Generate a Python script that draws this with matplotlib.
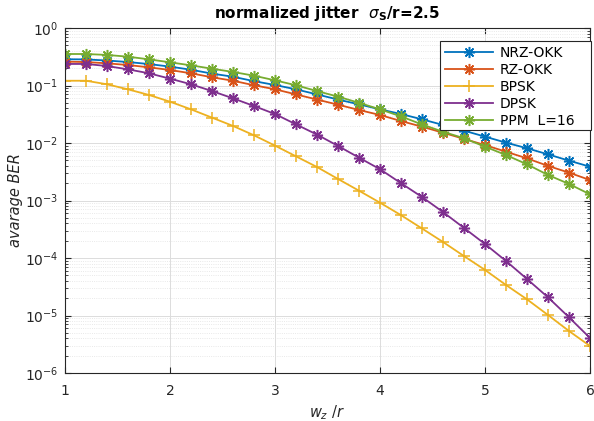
import matplotlib
matplotlib.use("Agg")
import matplotlib.pyplot as plt
from matplotlib.patches import Rectangle
from matplotlib.ticker import LogLocator, FixedLocator, NullFormatter

plt.rcParams['font.family'] = ['DejaVu Sans']
plt.rcParams['mathtext.fontset'] = 'dejavusans'

wz = [1.0, 1.2, 1.4, 1.6, 1.8, 2.0, 2.2, 2.4, 2.6, 2.8, 3.0, 3.2, 3.4, 3.6, 3.8,
      4.0, 4.2, 4.4, 4.6, 4.8, 5.0, 5.2, 5.4, 5.6, 5.8, 6.0]

nrz_okk = [0.286, 0.284, 0.272, 0.256, 0.236, 0.213, 0.188, 0.161, 0.142, 0.119,
           0.102, 0.0858, 0.070, 0.057, 0.047, 0.0385, 0.0319, 0.0258, 0.0206,
           0.0164, 0.0129, 0.01014, 0.0081, 0.00635, 0.00493, 0.00387]
rz_okk = [0.260, 0.256, 0.243, 0.227, 0.207, 0.186, 0.163, 0.139, 0.121, 0.101,
          0.086, 0.070, 0.057, 0.0464, 0.0375, 0.0307, 0.0241, 0.0192, 0.0151,
          0.0118, 0.0092, 0.00706, 0.0054, 0.0040, 0.00305, 0.00227]
bpsk = [0.121, 0.121, 0.105, 0.0858, 0.0684, 0.0523, 0.0385, 0.0276, 0.0198,
        0.0136, 0.0090, 0.00586, 0.00382, 0.00237, 0.00148, 0.000916, 0.000556,
        0.000326, 1.9e-4, 1.08e-4, 6.2e-5, 3.39e-5, 1.91e-5, 1.02e-5, 5.37e-6,
        2.95e-6]
dpsk = [0.237, 0.237, 0.218, 0.191, 0.163, 0.1315, 0.105, 0.080, 0.0598, 0.044,
        0.0319, 0.0211, 0.0140, 0.0089, 0.00556, 0.00350, 0.00200, 0.00115,
        0.00063, 0.000333, 0.000175, 8.87e-5, 4.31e-5, 2.07e-5, 9.3e-6, 4.06e-6]
ppm16 = [0.353, 0.353, 0.340, 0.317, 0.285, 0.253, 0.224, 0.196, 0.172, 0.148,
         0.123, 0.101, 0.080, 0.064, 0.050, 0.0385, 0.029, 0.021, 0.0157,
         0.0121, 0.00863, 0.00618, 0.00426, 0.00278, 0.00194, 0.00128]

x_ticks = [1, 2, 3, 4, 5, 6]
y_ticks = [1e-6, 1e-5, 1e-4, 1e-3, 1e-2, 1e-1, 1e0]

star = (8, 2, 0)
series = [
    ("NRZ-OKK", nrz_okk, '#0072BD', star),
    ("RZ-OKK", rz_okk, '#D95319', star),
    ("BPSK", bpsk, '#EDB120', '+'),
    ("DPSK", dpsk, '#7E2F8E', star),
    ("PPM  L=16", ppm16, '#77AC30', star),
]

fig = plt.figure(figsize=(5.94, 4.21), dpi=100)
ax = fig.add_axes([65/594, 1-373/421, 525/594, 345/421])

for name, vals, col, mk in series:
    ax.plot(wz, vals, color=col, marker=mk, markersize=8, linewidth=1.3,
            markeredgewidth=1.1, label=name)

ax.set_yscale('log')
ax.set_xlim(1, 6)
ax.set_ylim(1e-6, 1)
ax.xaxis.set_major_locator(FixedLocator(x_ticks))
ax.yaxis.set_major_locator(FixedLocator(y_ticks))
ax.yaxis.set_minor_locator(LogLocator(base=10, subs=range(2, 10), numticks=20))
ax.yaxis.set_minor_formatter(NullFormatter())

ax.grid(True, which='major', color='#dcdcdc', linewidth=0.7)
ax.grid(True, which='minor', axis='y', color='#e2e2e2', linewidth=0.6, linestyle=':')
ax.set_axisbelow(True)

for sp in ax.spines.values():
    sp.set_color('#262626')
    sp.set_linewidth(0.8)
ax.tick_params(which='both', direction='in', top=True, right=True,
               colors='#262626', labelsize=10)
ax.tick_params(axis='x', which='major', length=4, pad=8)
ax.tick_params(axis='y', which='major', length=4, pad=5)
ax.tick_params(which='minor', length=2)

ax.set_title(r'normalized jitter  $\sigma_{\mathbf{S}}$/r=2.5', fontsize=11,
             fontweight='bold', pad=7)
ax.set_xlabel(r'$w_z\ /r$', fontsize=10.5, labelpad=4, color='#262626')
ax.set_ylabel('avarage BER', fontsize=10.5, style='italic', color='#262626',
              labelpad=1)

# legend box (MATLAB-style, with extra room on the right)
box = Rectangle((440/594, 1-130/421), 151/594, 89/421, transform=fig.transFigure,
                facecolor='white', edgecolor='#262626', linewidth=0.8,
                zorder=4.5, clip_on=False)
ax.add_artist(box)
leg = ax.legend(loc='upper left', bbox_to_anchor=(440/594, 1-41/421),
                bbox_transform=fig.transFigure, borderaxespad=0,
                fontsize=10, frameon=False, handlelength=3.5,
                handletextpad=0.45, borderpad=0.35, labelspacing=0.22)

fig.savefig('out.png', dpi=100, facecolor='white')
